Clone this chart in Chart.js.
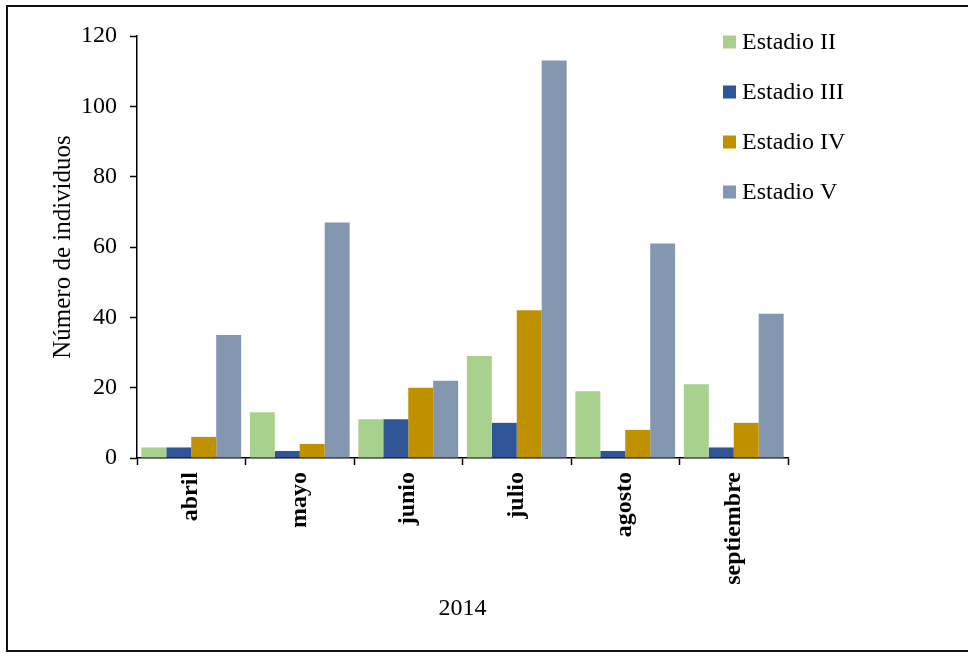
<!DOCTYPE html>
<html>
<head>
<meta charset="utf-8">
<script src="https://cdn.jsdelivr.net/npm/chart.js@4.4.1/dist/chart.umd.min.js"></script>
<style>
  html, body { margin: 0; padding: 0; background: #fff; }
  #wrap { width: 968px; height: 656px; }
</style>
</head>
<body>
<div id="wrap"><canvas id="c" width="968" height="656"></canvas></div>
<script>
// Monthly counts of individuals per developmental stage, 2014
const months = ['abril', 'mayo', 'junio', 'julio', 'agosto', 'septiembre'];
const estadioII  = [3, 13, 11, 29, 19, 21];
const estadioIII = [3, 2, 11, 10, 2, 3];
const estadioIV  = [6, 4, 20, 42, 8, 10];
const estadioV   = [35, 67, 22, 113, 61, 41];
const seriesNames = ['Estadio II', 'Estadio III', 'Estadio IV', 'Estadio V'];
const seriesColors = ['#A9D18E', '#2F5597', '#BF9000', '#8497B0'];
const yTicks = [0, 20, 40, 60, 80, 100, 120];

const FONT = '"Liberation Serif", "Times New Roman", serif';

// White page with an outer frame (right edge runs off the page)
const framePlugin = {
  id: 'frame',
  beforeDraw(chart) {
    const ctx = chart.ctx;
    ctx.save();
    ctx.fillStyle = '#fff';
    ctx.fillRect(0, 0, chart.width, chart.height);
    ctx.strokeStyle = '#111';
    ctx.lineWidth = 2;
    ctx.strokeRect(7, 6, 980, 645);
    ctx.restore();
  }
};

// Vertical legend drawn inside the plot, upper right
const legendPlugin = {
  id: 'stageLegend',
  afterDraw(chart) {
    const ctx = chart.ctx;
    ctx.save();
    ctx.font = '24px ' + FONT;
    ctx.textBaseline = 'middle';
    ctx.textAlign = 'left';
    chart.data.datasets.forEach((ds, i) => {
      const cy = 42 + i * 50;
      ctx.fillStyle = ds.backgroundColor;
      ctx.fillRect(723, cy - 6.5, 13, 13);
      ctx.fillStyle = '#000';
      ctx.fillText(ds.label, 742, cy + 1);
    });
    ctx.restore();
  }
};

const values = [estadioII, estadioIII, estadioIV, estadioV];

function draw() {
  new Chart(document.getElementById('c'), {
    type: 'bar',
    data: {
      labels: months,
      datasets: values.map((v, i) => ({
        label: seriesNames[i],
        data: v,
        backgroundColor: seriesColors[i],
        borderWidth: 0,
        barPercentage: 1,
        categoryPercentage: 0.92
      }))
    },
    options: {
      responsive: false,
      animation: false,
      events: [],
      layout: { padding: { top: 36, right: 180, left: 0, bottom: 0 } },
      plugins: {
        legend: { display: false },
        tooltip: { enabled: false }
      },
      scales: {
        x: {
          afterFit(scale) { scale.height = 198; },
          border: { color: '#000', width: 1.5 },
          grid: {
            drawOnChartArea: false,
            drawTicks: true,
            tickLength: 7,
            tickColor: '#000',
            tickWidth: 1.5,
            offset: true
          },
          ticks: {
            autoSkip: false,
            minRotation: 90,
            maxRotation: 90,
            padding: 7,
            color: '#000',
            font: { family: FONT, size: 24, weight: 'bold' }
          },
          title: {
            display: true,
            text: '2014',
            color: '#000',
            padding: { top: 0, bottom: 33 },
            font: { family: FONT, size: 24 }
          }
        },
        y: {
          min: 0,
          max: 120,
          afterFit(scale) { scale.width = 137; },
          afterBuildTicks(scale) { scale.ticks = yTicks.map(v => ({ value: v })); },
          border: { color: '#000', width: 1.5 },
          grid: {
            drawOnChartArea: false,
            drawTicks: true,
            tickLength: 7,
            tickColor: '#000',
            tickWidth: 1.5
          },
          ticks: {
            padding: 13,
            color: '#000',
            font: { family: FONT, size: 24 }
          },
          title: {
            display: true,
            text: 'Número de individuos',
            color: '#000',
            padding: { top: 48, bottom: 0 },
            font: { family: FONT, size: 25 }
          }
        }
      }
    },
    plugins: [framePlugin, legendPlugin]
  });
}

Promise.all([
  document.fonts.load('24px "Liberation Serif"'),
  document.fonts.load('bold 24px "Liberation Serif"')
]).then(draw, draw);
</script>
</body>
</html>
